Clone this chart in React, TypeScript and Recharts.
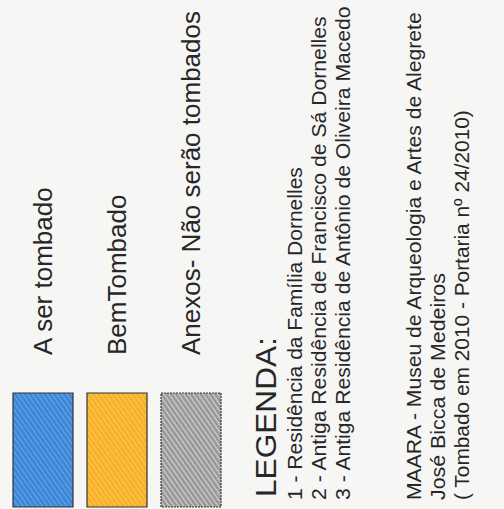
import { useLayoutEffect, useRef, useState } from "react";
import { BarChart, Bar, XAxis, YAxis, Cell, LabelList, Customized } from "recharts";

// swatch legend (photo of a map legend, text rotated 90°)
const categories = ["A ser tombado", "BemTombado", "Anexos- Não serão tombados"];
const swatchValues = [1, 1, 1];
const swatchColors = ["#3b87d9", "#f6b126", "#a9a9a9"];
const hatchColors = ["#7fb4ec", "#fcd27a", "#e0e0e0"];

const legendTitle = "LEGENDA:";
const buildingLines = [
  "1 - Residência da Família Dornelles",
  "2 - Antiga Residência de Francisco de Sá Dornelles",
  "3 - Antiga Residência de Antônio de Oliveira Macedo",
];
const museumLines = [
  "MAARA - Museu de Arqueologia e Artes de Alegrete",
  "José Bicca de Medeiros",
  "( Tombado em 2010 - Portaria nº 24/2010)",
];

// measured text run lengths in the photo (px)
const buildingLen = [333, 484, 494];
const museumLen = [488, 227, 390];

const data = categories.map((name, i) => ({ name, value: swatchValues[i] }));

const FONT = "'Liberation Sans', Arial, Helvetica, sans-serif";
const INK = "#272727";

const RotatedText = ({ x, y, text, size, len }: { x: number; y: number; text: string; size: number; len?: number }) => {
  const ref = useRef<SVGTextElement>(null);
  const [sx, setSx] = useState(1);

  // stretch the run along its reading direction to the length seen in the photo
  useLayoutEffect(() => {
    if (!len || !ref.current) return;
    const natural = ref.current.getComputedTextLength();
    if (natural > 0) setSx(len / natural);
  }, [len, text, size]);

  return (
    <text
      ref={ref}
      x={0}
      y={0}
      transform={`translate(${x} ${y}) rotate(-90) scale(${sx} 1)`}
      fontFamily={FONT}
      fontSize={size}
      fill={INK}
      textAnchor="start"
    >
      {text}
    </text>
  );
};

const SwatchLabel = (props: any) => {
  const { x, y, width, value } = props;
  const cx = Number(x) + Number(width) / 2 + 9;
  return <RotatedText x={cx} y={Number(y) - 38} text={String(value)} size={26} />;
};

const LegendBlock = () => {
  const bottom = 500;
  return (
    <g>
      <RotatedText x={276} y={497} text={legendTitle} size={29} len={160} />
      {buildingLines.map((t, i) => (
        <RotatedText key={t} x={302 + i * 24} y={bottom} text={t} size={21} len={buildingLen[i]} />
      ))}
      {museumLines.map((t, i) => (
        <RotatedText key={t} x={421 + i * 24} y={bottom} text={t} size={21} len={museumLen[i]} />
      ))}
    </g>
  );
};

const App = () => {
  return (
    <div style={{ position: "absolute", left: 0, top: 0, width: 504, height: 509, background: "#f6f6f5" }}>
      <svg width={0} height={0} style={{ position: "absolute" }}>
        <defs>
          {swatchColors.map((c, i) => (
            <pattern
              key={c}
              id={`hatch-${i}`}
              patternUnits="userSpaceOnUse"
              width={4}
              height={4}
              patternTransform="rotate(-35)"
            >
              <rect width={4} height={4} fill={c} />
              <line x1={0} y1={0} x2={0} y2={4} stroke={hatchColors[i]} strokeWidth={1.4} />
              {i === 2 && <line x1={2} y1={0} x2={2} y2={4} stroke="#7a7a7a" strokeWidth={0.8} />}
            </pattern>
          ))}
        </defs>
      </svg>
      <BarChart
        width={504}
        height={509}
        data={data}
        margin={{ top: 393, right: 276, bottom: 2, left: 6 }}
        barSize={60}
      >
        <XAxis dataKey="name" hide />
        <YAxis hide domain={[0, 1]} />
        <Bar dataKey="value" isAnimationActive={false}>
          {data.map((d, i) => (
            <Cell
              key={d.name}
              fill={`url(#hatch-${i})`}
              stroke="#333"
              strokeWidth={1.2}
              strokeDasharray={i === 2 ? "2 1" : undefined}
            />
          ))}
          <LabelList dataKey="name" content={SwatchLabel} />
        </Bar>
        <Customized component={<LegendBlock />} />
      </BarChart>
    </div>
  );
};

export default App;
